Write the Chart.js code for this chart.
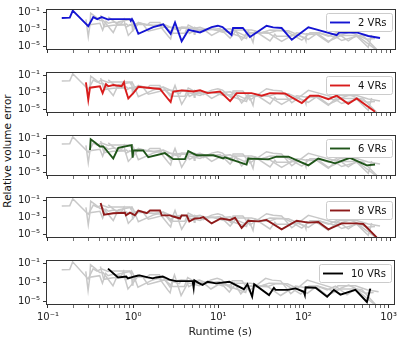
<!DOCTYPE html>
<html>
<head>
<meta charset="utf-8">
<script src="https://cdn.jsdelivr.net/npm/chart.js@4.4.1/dist/chart.umd.min.js"></script>
<style>
  html,body{margin:0;padding:0;background:#fff}
  #wrap{position:relative;width:400px;height:339px;overflow:hidden;font-family:"DejaVu Sans",sans-serif}
  .pn{position:absolute;left:0;width:400px}
  #ylab{position:absolute;left:-63px;top:145px;width:140px;line-height:12px;text-align:center;
    transform:rotate(-90deg);font-size:10.5px;color:#111;white-space:nowrap}
</style>
</head>
<body>
<div id="wrap"><div id="ylab">Relative volume error</div></div>
<script>
/* Runtime vs relative volume error, one panel per VR count.
   Every panel shows all five runs in grey with its own run highlighted. */

// ---- data ----
const vr2Time = [0.145,0.18,0.195,0.296,0.339,0.377,0.425,0.507,0.53,0.91,0.93,0.96,1.0,1.14,1.7,2.23,2.72,3.06,3.66,4.4,
  6.0,8.2,9.7,11,14,14.6,19,23,36,43,54,71,111,133,238,255,408,557,764];
const vr2Err = [0.023,0.025,0.166,0.0024,0.029,0.017,0.029,0.015,0.017,0.017,0.0105,0.017,0.0084,3.1e-4,0.0019,0.004,3.1e-4,0.0067,4e-5,9.3e-4,
  4.5e-4,0.0019,0.0028,0.0019,2.2e-4,0.0015,0.0015,1.3e-4,0.0028,0.0018,0.0015,6.1e-5,0.0018,0.0011,2.2e-4,4.5e-4,4.5e-4,1.7e-4,1.0e-4];

const vr4Time = [0.278,0.296,0.31,0.405,0.436,0.477,0.507,0.58,0.728,0.774,0.795,0.87,0.995,1.14,2.04,2.55,2.72,2.92,3.66,5.0,
  6.0,7.4,10.3,13.5,16.1,24,31.6,39.5,59,93,116,145,190,238,325,408,668];
const vr4Err = [0.016,1.4e-4,0.0037,0.0054,8.5e-4,0.0095,0.0054,0.0077,0.0054,0.016,0.0037,2e-4,8.5e-4,0.0047,0.0026,1.6e-4,7.7e-5,0.0013,0.0018,0.0013,
  0.0018,8.5e-4,0.0013,9.6e-5,8.5e-4,8.5e-4,4.2e-4,8.5e-4,7.6e-4,5.7e-5,4.2e-4,4.2e-4,1.6e-4,4.2e-4,4.6e-5,2e-4,5.2e-6];

const vr6Time = [0.31,0.316,0.355,0.405,0.444,0.486,0.58,0.664,0.953,0.978,0.995,1.30,1.49,2.33,2.92,4.0,4.37,5.5,8.6,11.2,
  11.7,21,22,37.7,47,65,111,145,228,340,533,668];
const vr6Err = [0.0045,0.083,0.035,0.0117,0.0117,0.0039,4.4e-4,0.008,0.0166,5.4e-4,0.0039,0.0039,6.2e-4,0.0019,3.7e-4,3.7e-4,0.0033,0.00105,0.00105,4.4e-4,
  6.2e-4,8.5e-5,4.4e-4,3.5e-4,7.2e-4,7.2e-4,6.9e-5,4.4e-4,1.2e-4,5.4e-4,6.9e-5,8.5e-5];

const vr8Time = [0.413,0.452,0.58,0.795,0.817,0.91,1.04,1.14,1.43,1.56,2.04,2.14,2.67,2.92,3.5,3.66,4.19,4.5,5.24,6.0,
  6.55,8.2,10.5,13.5,15.4,18.4,22,28.8,36,54,81,111,145,190,272,408,487,698];
const vr8Err = [0.052,0.0022,0.0032,0.0037,0.0018,0.0037,0.0018,0.0067,0.0032,0.0067,0.0067,0.0018,0.0018,0.0013,7.6e-4,0.0018,0.0018,3.5e-4,7.6e-4,8.5e-4,
  0.0011,2e-4,7.6e-4,5.2e-4,9.3e-4,5.8e-5,4.2e-4,3.5e-4,5.2e-4,4e-5,4.2e-4,2.5e-4,2.9e-4,4e-5,2e-4,2e-4,1.7e-4,4.5e-6];

const vr10Time = [0.507,0.664,0.83,0.87,0.995,1.09,1.19,1.49,1.7,1.86,2.23,2.67,3.2,5.0,5.14,5.24,6.0,6.55,7.5,9.4,
  13.5,20,22,25,26.4,39.5,45,47,65,81,101,104,106,139,190,228,272,408,557,610];
const vr10Err = [0.031,0.0035,0.0044,0.0028,0.004,0.005,0.0058,0.0035,0.0028,0.0035,0.0044,0.002,0.0014,0.0014,2.7e-4,0.0017,8e-4,5.5e-4,0.0012,8e-4,
  0.0012,1.9e-4,6.5e-4,3e-5,6.5e-4,4.4e-5,2.7e-4,1.6e-4,1.6e-4,2.3e-4,1e-4,4.4e-5,3.1e-4,2.7e-4,3e-5,1.6e-4,5e-5,1.6e-4,8e-6,2.2e-4];

const seriesLabels = ["2 VRs", "4 VRs", "6 VRs", "8 VRs", "10 VRs"];
const seriesColors = ["#1414d2", "#d81c1c", "#1f5519", "#8e1a1a", "#000000"];
const xTickVals = [0.1, 1, 10, 100, 1000];
const xTickLabels = ["10⁻¹", "10⁰", "10¹", "10²", "10³"];
const yTickVals = [1e-1, 1e-3, 1e-5];
const yTickLabels = ["10⁻¹", "10⁻³", "10⁻⁵"];

// ---- layout ----
const TIMES = [vr2Time, vr4Time, vr6Time, vr8Time, vr10Time];
const ERRS = [vr2Err, vr4Err, vr6Err, vr8Err, vr10Err];
const TOPS = [3, 66, 129, 191, 254];   // plot-area tops
const PLOT_H = 51, PAD_T = 3;
const X_MIN = Math.pow(10, -1.023), X_MAX = Math.pow(10, 3.07);
const Y_MIN = Math.pow(10, -5.42), Y_MAX = Math.pow(10, -0.58);
const GREY = "#c8c8c8", INK = "#222";

// major + minor ticks on the log x axis
const xTicksAll = [];
for (let k = -1; k <= 2; k++) for (let m = 1; m <= 9; m++) xTicksAll.push(m * Math.pow(10, k));
xTicksAll.push(1000);
const near = (a, b) => Math.abs(Math.log10(a) - Math.log10(b)) < 1e-6;
const xLabel = v => { const i = xTickVals.findIndex(t => near(t, v)); return i < 0 ? "" : xTickLabels[i]; };
const yLabel = v => { const i = yTickVals.findIndex(t => near(t, v)); return i < 0 ? "" : yTickLabels[i]; };
const pts = j => TIMES[j].map((t, k) => ({ x: t, y: ERRS[j][k] }));

const frame = {
  id: "frame",
  afterDraw(c) {
    const a = c.chartArea, g = c.ctx;
    g.save(); g.strokeStyle = "#333"; g.lineWidth = 1;
    g.strokeRect(Math.round(a.left) + .5, Math.round(a.top) + .5,
      Math.round(a.right - a.left) - 1, Math.round(a.bottom - a.top) - 1);
    g.restore();
  },
};
const legendBox = {
  id: "legendBox",
  afterDatasetsDraw(c) {
    const d = c.data.datasets[0], a = c.chartArea, g = c.ctx;
    g.save(); g.font = '10px "DejaVu Sans"';
    const tw = g.measureText(d.label).width;
    const w = Math.round(4 + 20 + 8 + tw + 5), h = 18;
    const L = Math.round(a.right - 4 - w), T = Math.round(a.top + 4);
    g.beginPath(); g.roundRect(L + .5, T + .5, w, h, 2);
    g.fillStyle = "rgba(255,255,255,0.85)"; g.fill();
    g.strokeStyle = "#cccccc"; g.lineWidth = 1; g.stroke();
    g.beginPath(); g.moveTo(L + 4, T + h / 2 + .5); g.lineTo(L + 24, T + h / 2 + .5);
    g.strokeStyle = d.borderColor; g.lineWidth = 1.9; g.stroke();
    g.fillStyle = "#111"; g.textBaseline = "middle";
    g.fillText(d.label, L + 32, T + h / 2 + 1);
    g.restore();
  },
};

const wrap = document.getElementById("wrap");
seriesLabels.forEach((lab, i) => {
  const last = i === seriesLabels.length - 1;
  const top = TOPS[i] - PAD_T;
  const h = last ? 339 - top : PAD_T + PLOT_H + 5;
  const box = document.createElement("div"); box.className = "pn";
  box.style.top = top + "px"; box.style.height = h + "px";
  const cv = document.createElement("canvas"); box.appendChild(cv); wrap.appendChild(box);

  // highlighted run first so it sits on top of the grey ones
  const ds = [{ label: lab, data: pts(i), borderColor: seriesColors[i], borderWidth: 1.9 }];
  seriesLabels.forEach((_, j) => { if (j !== i) ds.push({ label: "", data: pts(j), borderColor: GREY, borderWidth: 1.5 }); });

  new Chart(cv, {
    type: "line",
    data: { datasets: ds },
    options: {
      responsive: true, maintainAspectRatio: false, animation: false,
      layout: { padding: { top: PAD_T, right: 4, left: 0, bottom: 0 } },
      elements: { point: { radius: 0 }, line: { tension: 0 } },
      plugins: { legend: { display: false }, tooltip: { enabled: false } },
      scales: {
        x: {
          type: "logarithmic", min: X_MIN, max: X_MAX,
          afterBuildTicks: sc => { sc.ticks = xTicksAll.map(v => ({ value: v })); },
          afterFit: sc => { sc.height = last ? h - PAD_T - PLOT_H : 5; },
          grid: { drawOnChartArea: false, tickLength: 3, color: "#333",
                  tickWidth: ctx => (ctx.tick && xLabel(ctx.tick.value) ? 1 : 0.7) },
          border: { display: false },
          ticks: { display: last, autoSkip: false, maxRotation: 0, padding: 3,
                   font: { family: "DejaVu Sans", size: 10 }, color: INK, callback: v => xLabel(v) },
          title: { display: last, text: "Runtime (s)", font: { family: "DejaVu Sans", size: 11 },
                   color: INK, padding: 0 },
        },
        y: {
          type: "logarithmic", min: Y_MIN, max: Y_MAX,
          afterBuildTicks: sc => { sc.ticks = yTickVals.map(v => ({ value: v })); },
          afterFit: sc => { sc.width = 46; },
          grid: { drawOnChartArea: false, tickLength: 3, color: "#333" },
          border: { display: false },
          ticks: { autoSkip: false, padding: 3, font: { family: "DejaVu Sans", size: 10 }, color: INK,
                   callback: v => yLabel(v) },
        },
      },
    },
    plugins: [legendBox, frame],
  });
});
</script>
</body>
</html>
